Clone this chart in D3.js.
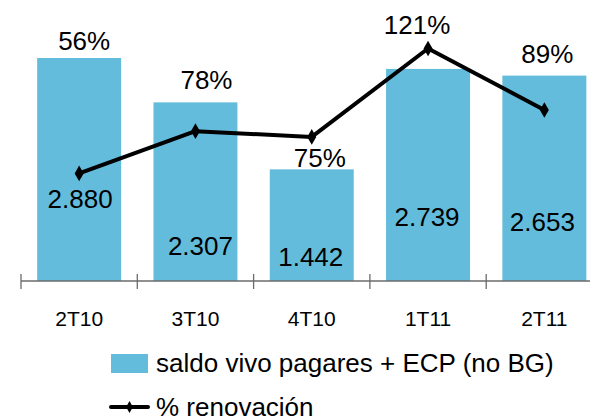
<!DOCTYPE html>
<html>
<head>
<meta charset="utf-8">
<script src="https://cdn.jsdelivr.net/npm/d3@7"></script>
<style>
  body { margin: 0; background: #fff; }
  text { font-family: "Liberation Sans", Arial, sans-serif; fill: #000; }
</style>
</head>
<body>
<div id="chart"></div>
<script>
// chart data
const quarters = ["2T10", "3T10", "4T10", "1T11", "2T11"];
const saldoVivo = [2880, 2307, 1442, 2739, 2653];
const renovacion = [56, 78, 75, 121, 89];

// label nudges (Excel manual placement), relative to bar top centre
const pctOffsets = [[5, -8], [11, -13], [8, -2], [-11, -35], [3, -13]];
const valOffsets = [[1, 150], [5, 153], [-1, 97], [-1, 157], [-2, 155]];

const svgWidth = 590;
const svgHeight = 418;
const baseY = 281;

const svg = d3.select("#chart").append("svg")
    .attr("width", svgWidth)
    .attr("height", svgHeight);

// scales
const x = d3.scaleBand()
    .domain(quarters)
    .range([21, 602.5])
    .padding(0);

const barW = x.bandwidth() * 0.722;

const y = d3.scaleLinear()
    .domain([0, 3500])
    .range([baseY, 10]);

const y2 = d3.scaleLinear()
    .domain([0, 140])
    .range([baseY, 12]);

const cx = d => x(d) + x.bandwidth() / 2;

// bars
svg.append("g").selectAll("rect")
    .data(quarters)
    .enter()
    .append("rect")
    .attr("x", (d, i) => cx(d) - barW / 2)
    .attr("y", (d, i) => y(saldoVivo[i]))
    .attr("width", barW)
    .attr("height", (d, i) => baseY - y(saldoVivo[i]))
    .attr("fill", "#63bcdb");

// category axis
const xAxis = d3.axisBottom(x)
    .tickSize(0)
    .tickPadding(0)
    .tickFormat("");

const axisG = svg.append("g")
    .attr("transform", `translate(0, ${baseY})`)
    .call(xAxis);
axisG.select(".domain").attr("stroke", "#6b6b6b").attr("stroke-width", 1.3)
    .attr("d", `M21,0H${svgWidth}`);
axisG.selectAll(".tick").remove();

// tick marks between categories
svg.append("g").selectAll("line")
    .data(quarters)
    .enter()
    .append("line")
    .attr("x1", d => x(d))
    .attr("x2", d => x(d))
    .attr("y1", baseY - 7)
    .attr("y2", baseY + 8)
    .attr("stroke", "#6b6b6b")
    .attr("stroke-width", 1.3);

svg.append("g").selectAll("text")
    .data(quarters)
    .enter()
    .append("text")
    .attr("x", d => cx(d))
    .attr("y", 326)
    .attr("text-anchor", "middle")
    .attr("font-size", 21)
    .text(d => d);

// renovation line
const line = d3.line()
    .x((d, i) => cx(quarters[i]))
    .y(d => y2(d));

svg.append("path")
    .datum(renovacion)
    .attr("d", line)
    .attr("fill", "none")
    .attr("stroke", "#000")
    .attr("stroke-width", 4)
    .attr("stroke-linejoin", "round");

const diamond = d3.symbol().type(d3.symbolDiamond).size(70);

svg.append("g").selectAll("path")
    .data(renovacion)
    .enter()
    .append("path")
    .attr("d", diamond)
    .attr("transform", (d, i) => `translate(${cx(quarters[i])}, ${y2(d)})`)
    .attr("fill", "#000");

// percentage labels
svg.append("g").selectAll("text")
    .data(renovacion)
    .enter()
    .append("text")
    .attr("x", (d, i) => cx(quarters[i]) + pctOffsets[i][0])
    .attr("y", (d, i) => y(saldoVivo[i]) + pctOffsets[i][1])
    .attr("text-anchor", "middle")
    .attr("font-size", 26)
    .text(d => d + "%");

// value labels
const fmt = v => d3.format(",")(v).replace(",", ".");
svg.append("g").selectAll("text")
    .data(saldoVivo)
    .enter()
    .append("text")
    .attr("x", (d, i) => cx(quarters[i]) + valOffsets[i][0])
    .attr("y", (d, i) => y(d) + valOffsets[i][1])
    .attr("text-anchor", "middle")
    .attr("font-size", 26)
    .text(d => fmt(d));

// legend
const legend = svg.append("g");
legend.append("rect")
    .attr("x", 111).attr("y", 354)
    .attr("width", 37).attr("height", 19)
    .attr("fill", "#63bcdb");
legend.append("text")
    .attr("x", 156).attr("y", 372)
    .attr("font-size", 26)
    .text("saldo vivo pagares + ECP (no BG)");

legend.append("line")
    .attr("x1", 111).attr("x2", 148)
    .attr("y1", 407).attr("y2", 407)
    .attr("stroke", "#000").attr("stroke-width", 4)
    .attr("stroke-linecap", "round");
legend.append("path")
    .attr("d", d3.symbol().type(d3.symbolDiamond).size(40))
    .attr("transform", "translate(129.5, 407)");
legend.append("text")
    .attr("x", 156).attr("y", 416)
    .attr("font-size", 26)
    .text("% renovación");
</script>
</body>
</html>
